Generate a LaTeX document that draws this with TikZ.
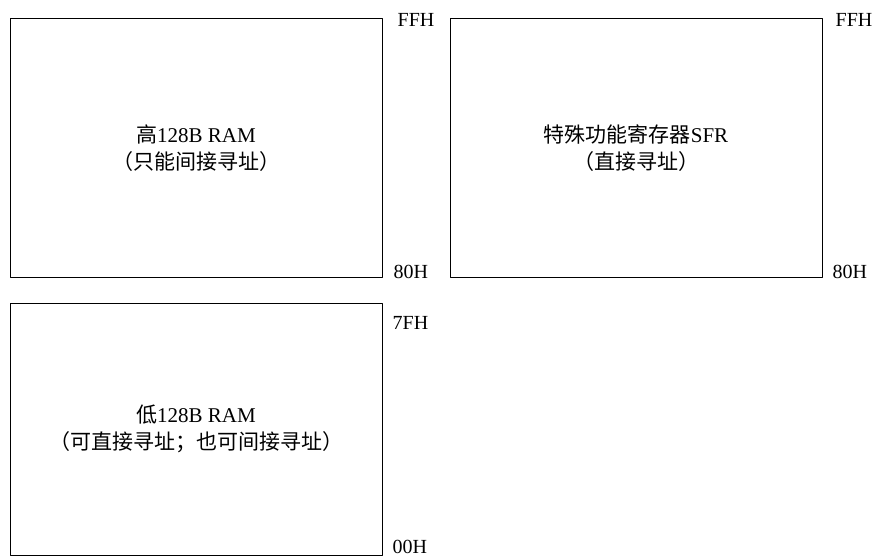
\documentclass[tikz,border=0pt]{standalone}
\usepackage{fontspec}
\setmainfont{Liberation Serif}
\newfontfamily\cjk{Noto Sans CJK SC}
\usetikzlibrary{positioning}

\tikzset{
  memblock/.style={draw, line width=1pt, inner sep=0pt, align=center,
    minimum width=372pt, font=\fontsize{21}{27}\selectfont},
  addr/.style={inner sep=0pt, anchor=west, font=\fontsize{20}{24}\selectfont}
}

\begin{document}
\begin{tikzpicture}[x=1pt, y=1pt, line cap=round, line join=round]
                \useasboundingbox (0,0) rectangle (877,558);

                % memory blocks
                \node[memblock, minimum height=258pt] (high) at (196,410) {{\cjk 高}128B RAM\\{\cjk （只能间接寻址）}};
                \node[memblock, minimum height=258pt] (sfr) at (636,410) {{\cjk 特殊功能寄存器}SFR\\{\cjk （直接寻址）}};
                \node[memblock, minimum height=252pt] (low) at (196,129) {{\cjk 低}128B RAM\\{\cjk （可直接寻址；也可间接寻址）}};

                % addresses
                \node[addr] (highTop) at ([xshift=15pt,yshift=-1.5pt]high.north east) {FFH};
                \node[addr] (highBot) at ([xshift=11pt,yshift=5.5pt]high.south east) {80H};
                \node[addr] (sfrTop) at ([xshift=13pt,yshift=-1.5pt]sfr.north east) {FFH};
                \node[addr] (sfrBot) at ([xshift=10pt,yshift=5.5pt]sfr.south east) {80H};
                \node[addr] (lowTop) at ([xshift=10pt,yshift=-20pt]low.north east) {7FH};
                \node[addr] (lowBot) at ([xshift=10pt,yshift=8.5pt]low.south east) {00H};

\end{tikzpicture}
\end{document}
